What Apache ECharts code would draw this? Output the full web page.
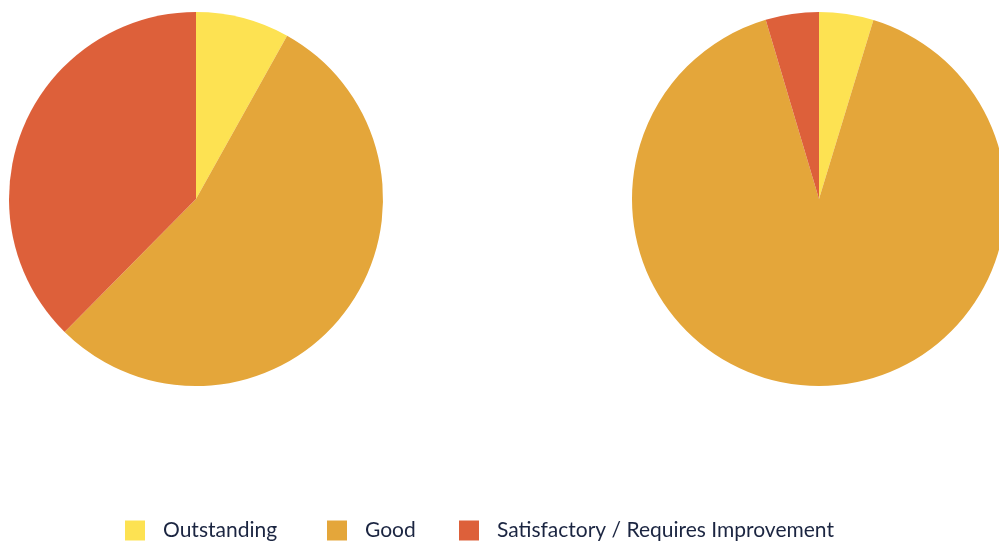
<!DOCTYPE html>
<html>
<head>
<meta charset="utf-8">
<script src="https://cdn.jsdelivr.net/npm/echarts@6/dist/echarts.min.js"></script>
<style>
html,body{margin:0;padding:0;background:#fff;}
#chart{width:999px;height:542px;}
</style>
</head>
<body>
<div id="chart"></div>
<script>
const categories = ["Outstanding", "Good", "Satisfactory / Requires Improvement"];
const leftValues = [8.1, 54.3, 37.6];
const rightValues = [4.7, 90.7, 4.6];
const colors = ["#fde252", "#e4a63a", "#dd603a"];
const legendLefts = [125, 327, 459];

const chart = echarts.init(document.getElementById('chart'), null, {renderer: 'canvas'});
function build(vals) {
  return categories.map((c, i) => ({name: c, value: vals[i], itemStyle: {color: colors[i]}}));
}
chart.setOption({
  animation: false,
  legend: categories.map((c, i) => ({
    data: [c],
    left: legendLefts[i],
    top: 520,
    padding: 0,
    itemWidth: 20,
    itemHeight: 20,
    icon: 'rect',
    selectedMode: false,
    textStyle: {fontFamily: 'Lato', fontSize: 21, lineHeight: 20, color: '#1b2541', padding: [0, 0, 0, 13]}
  })),
  series: [
    {
      type: 'pie', center: [196, 199], radius: [0, 187], startAngle: 90, clockwise: true,
      label: {show: false}, labelLine: {show: false}, silent: true,
      data: build(leftValues)
    },
    {
      type: 'pie', center: [819, 199], radius: [0, 187], startAngle: 90, clockwise: true,
      label: {show: false}, labelLine: {show: false}, silent: true,
      data: build(rightValues)
    }
  ]
});
</script>
</body>
</html>
